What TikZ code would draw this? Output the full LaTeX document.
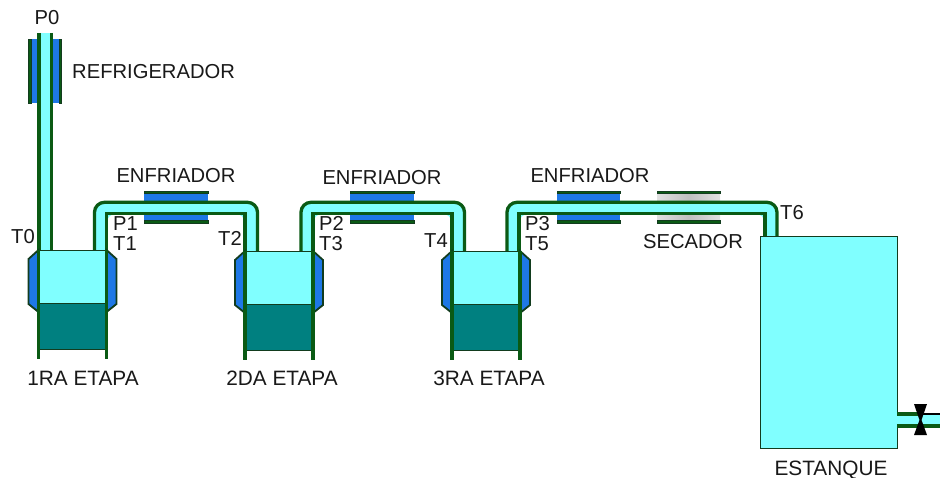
\documentclass[tikz,border=0pt]{standalone}
\usepackage{fontspec}
\setmainfont{Liberation Sans}
\definecolor{fluid}{HTML}{80FFFF}
\definecolor{oil}{HTML}{008080}
\definecolor{coolant}{HTML}{1E78E6}
\definecolor{wallgreen}{HTML}{0A5A14}
\definecolor{edge}{HTML}{123C1E}
\definecolor{drygrey}{HTML}{E0E0E0}
\tikzset{
  wall/.style={draw=wallgreen,line width=3.3pt,line cap=butt},
  jacket/.style={fill=coolant,draw=edge,line width=1.8pt,line join=miter},
  strip/.style={fill=wallgreen,draw=edge,line width=.4pt},
  lbl/.style={font=\fontsize{20.2}{20.2}\selectfont,text=black!90,inner sep=0pt,text height=14.3pt,text depth=0pt},
  biglbl/.style={lbl,font=\fontsize{20.8}{20.8}\selectfont},
  pic/.style={x=1pt,y=-1pt}
}
\newcommand{\stage}[2]{% left x, top y
  \begin{scope}[shift={(#1,#2)}]
    \draw[jacket] (0,0)--(-10,9)--(-10,54)--(0,62)--cycle;
    \draw[jacket] (68,0)--(78,9)--(78,54)--(68,62)--cycle;
    \fill[fluid] (0,0) rectangle (68,53);
    \fill[oil] (0,53) rectangle (68,99);
    \draw[edge,line width=.9pt] (0,53)--(68,53) (0,99)--(68,99) (0,0)--(68,0);
    \draw[wall] (0,0)--(0,109) (68,0)--(68,109);
  \end{scope}}
\newcommand{\hjacket}[3]{% x1, x2, fill
  \fill[#3] (#1,192) rectangle (#2,222);
  \draw[strip] (#1,191) rectangle (#2,193.3);
  \draw[strip] (#1,220.7) rectangle (#2,223);}
\newcommand{\pipe}[6]{% outer left, inner left, inner right, outer right, left foot y, right foot y
  \fill[fluid,rounded corners=10pt] (#1,#5)--(#1,202.3)--(#4,202.3)--(#4,#6)--(#3,#6)--(#3,213.5)--(#2,213.5)--(#2,#5)--cycle;
  \fill[fluid] (#2,205) rectangle (#3,213.5);
  \fill[fluid] (#1,215) rectangle (#2,#5);
  \fill[fluid] (#3,215) rectangle (#4,#6);
  \draw[wall,rounded corners=10pt] (#1,#5)--(#1,202.3)--(#4,202.3)--(#4,#6);
  \draw[wall] (#2,#5)--(#2,213.5)--(#3,213.5)--(#3,#6);}
\begin{document}
\begin{tikzpicture}[pic]
\useasboundingbox (0,0) rectangle (940,478);
\fill[white] (0,0) rectangle (940,478);
% refrigerador
\fill[coolant] (28,39) rectangle (62,103);
\draw[strip] (28.5,39.5) rectangle (31,103);
\draw[strip] (59,39.5) rectangle (61.5,103);
\fill[fluid] (39,33) rectangle (51.5,250);
\draw[wall] (39,33)--(39,250) (51.5,33)--(51.5,250);
% coolers and dryer
\hjacket{144}{208}{coolant}
\hjacket{350}{414}{coolant}
\hjacket{557}{620}{coolant}
\shade[left color=drygrey,right color=drygrey,middle color=black!25] (657,193) rectangle (720,201);
\shade[left color=drygrey,right color=drygrey,middle color=black!25] (657,215) rectangle (720,221);
\draw[strip] (657,191) rectangle (720,193.3);
\draw[strip] (657,220.7) rectangle (720,223);
% pipes
\pipe{94.5}{106.5}{245}{257.5}{251}{251}
\pipe{301}{313}{452}{464.5}{251}{251}
\pipe{507}{519}{765}{777}{251}{236}
% stages
\stage{38.5}{250}
\stage{245}{251}
\stage{452}{251}
% tank
\draw[fill=fluid,draw=edge,line width=.9pt] (760,236) rectangle (897,448);
% outlet
\fill[fluid] (897,415) rectangle (940,426);
\draw[wall] (897,414)--(918,414);
\draw[black,line width=2.9pt] (918,414)--(940,414);
\draw[wall] (897,426)--(940,426);
\fill[black] (914,404)--(927,404)--(921.5,420)--(927,435)--(914,435)--(919.5,420)--cycle;
% labels
\node[lbl] (p0) at (47,17) {P0};
\node[lbl,anchor=west] (refr) at (72,71) {REFRIGERADOR};
\node[lbl] (t0) at (23,236) {T0};
\node[lbl,anchor=west] (p1) at (113,223) {P1};
\node[lbl,anchor=west] (t1) at (113,243) {T1};
\node[lbl] (t2) at (230,238) {T2};
\node[lbl,anchor=west] (p2) at (319,223) {P2};
\node[lbl,anchor=west] (t3) at (319,243) {T3};
\node[lbl] (t4) at (436,240) {T4};
\node[lbl,anchor=west] (p3) at (525,223) {P3};
\node[lbl,anchor=west] (t5) at (525,243) {T5};
\node[lbl,anchor=west] (t6) at (780,212) {T6};
\node[lbl] (e1) at (176,175) {ENFRIADOR};
\node[lbl] (e2) at (382,177) {ENFRIADOR};
\node[lbl] (e3) at (590,175) {ENFRIADOR};
\node[lbl] (sec) at (693,241) {SECADOR};
\node[biglbl] (s1) at (83,378) {1RA ETAPA};
\node[biglbl] (s2) at (282,378) {2DA ETAPA};
\node[biglbl] (s3) at (489,378) {3RA ETAPA};
\node[biglbl] (est) at (831,468) {ESTANQUE};
\end{tikzpicture}
\end{document}
